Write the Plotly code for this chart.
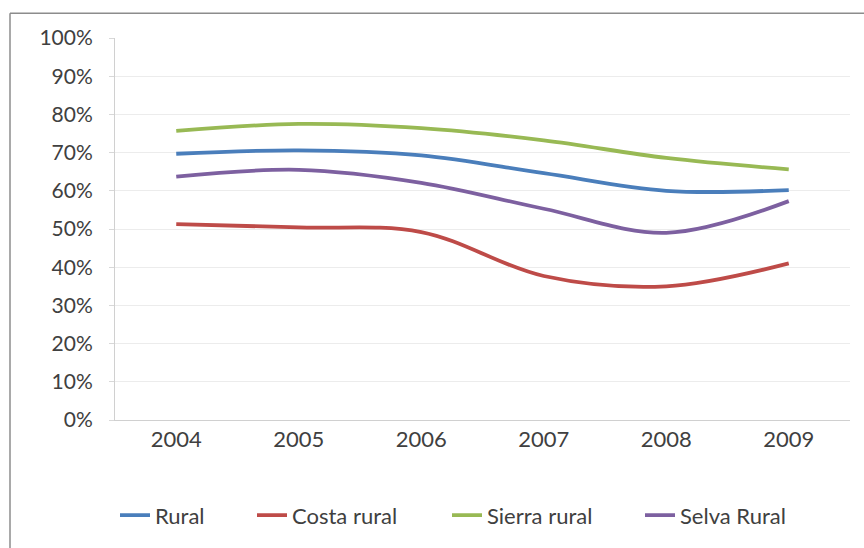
import plotly.graph_objects as go

years = ["2004", "2005", "2006", "2007", "2008", "2009"]
rural = [0.697, 0.706, 0.693, 0.646, 0.600, 0.602]
costa_rural = [0.513, 0.504, 0.492, 0.377, 0.350, 0.410]
sierra_rural = [0.757, 0.775, 0.764, 0.732, 0.686, 0.656]
selva_rural = [0.637, 0.655, 0.621, 0.553, 0.490, 0.573]

series = [
    ("Rural", rural, "#4A7EBB"),
    ("Costa rural", costa_rural, "#BE4B48"),
    ("Sierra rural", sierra_rural, "#98B954"),
    ("Selva Rural", selva_rural, "#7D60A0"),
]
legend_text_starts = [155, 292, 487, 680]

FONT = "Lato, 'Open Sans', sans-serif"
FS = 21
FSX = 22
W, H = 864, 548
L, R, T, B = 115, 14, 38, 125
pw = W - L - R
ph = H - T - B

def px_x(p):
    return (p - L) / pw

def px_y(p):
    return (H - B - p) / ph

fig = go.Figure()
legend_ids = ["legend", "legend2", "legend3", "legend4"]
for (name, vals, color), lid in zip(series, legend_ids):
    fig.add_trace(go.Scatter(
        x=years, y=vals, name=name, mode="lines", legend=lid,
        line=dict(color=color, width=3.8, shape="spline", smoothing=1.0),
    ))

legend_layout = {}
for lid, ts in zip(legend_ids, legend_text_starts):
    legend_layout[lid] = dict(
        orientation="h", x=px_x(ts - 40), y=px_y(519), xanchor="left", yanchor="middle",
        font=dict(size=FSX, color="#404040"), itemwidth=30, bgcolor="rgba(0,0,0,0)",
        borderwidth=0,
    )

fig.update_layout(
    width=W, height=H,
    margin=dict(l=L, r=R, t=T, b=B),
    paper_bgcolor="white", plot_bgcolor="white",
    font=dict(family=FONT, size=FS, color="#404040"),
    showlegend=True,
    xaxis=dict(type="category", range=[-0.5, 5.5], showgrid=False,
               showline=True, linecolor="#d0d0d0", linewidth=1,
               ticks="", tickfont=dict(size=FSX, color="#404040"), ticklabelstandoff=0),
    yaxis=dict(range=[0, 1], tickformat=".0%", dtick=0.1, showgrid=True,
               gridcolor="#ececec", gridwidth=1, showline=True, linecolor="#d0d0d0",
               linewidth=1, ticks="outside", ticklen=5, tickcolor="#d8d8d8",
               tickfont=dict(size=FS, color="#404040"), zeroline=False,
               ticklabelstandoff=12),
    shapes=[
        dict(type="line", xref="paper", yref="paper", x0=px_x(10), x1=px_x(880),
             y0=px_y(13), y1=px_y(13), line=dict(color="#8c8c8c", width=1.5)),
        dict(type="line", xref="paper", yref="paper", x0=px_x(10), x1=px_x(10),
             y0=px_y(13), y1=px_y(560), line=dict(color="#8c8c8c", width=1.5)),
    ],
    **legend_layout,
)

fig.write_html("out.html")
